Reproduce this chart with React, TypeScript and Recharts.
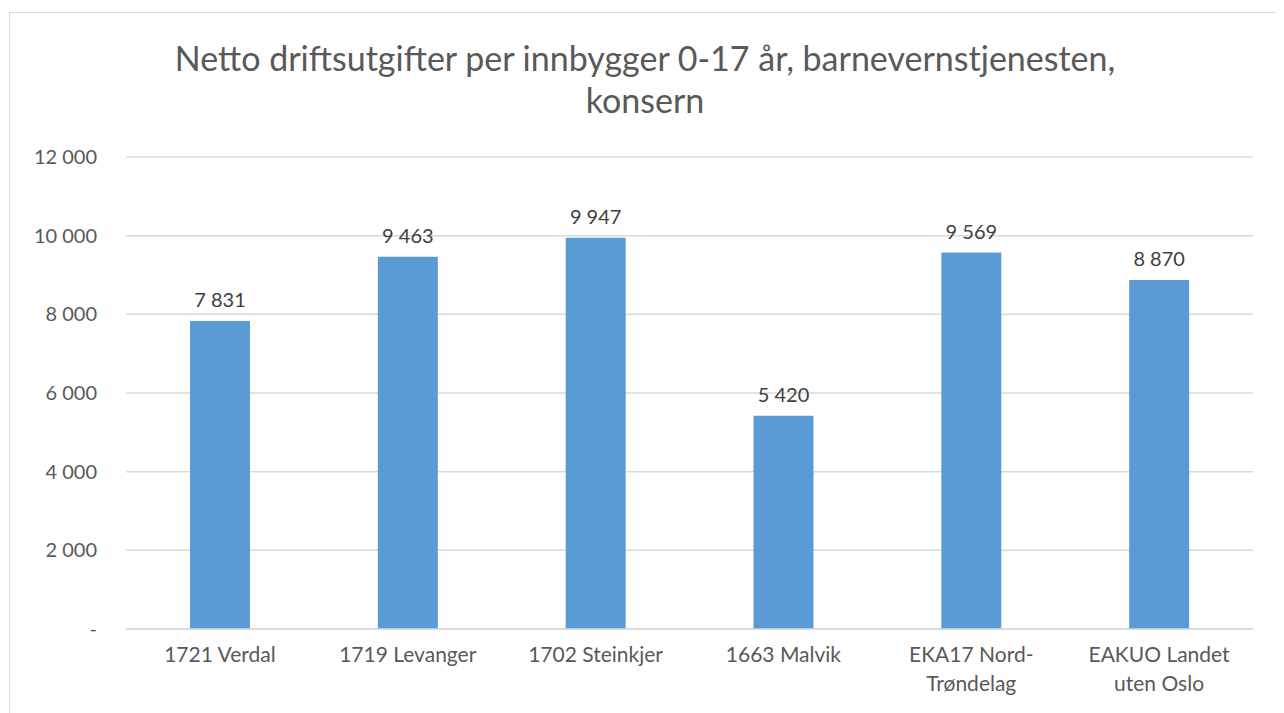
import React from "react";
import { BarChart, Bar, XAxis, YAxis, CartesianGrid, LabelList } from "recharts";

const categories = [
  "1721 Verdal",
  "1719 Levanger",
  "1702 Steinkjer",
  "1663 Malvik",
  "EKA17 Nord-\nTrøndelag",
  "EAKUO Landet\nuten Oslo",
];
const values = [7831, 9463, 9947, 5420, 9569, 8870];
const yTicks = [0, 2000, 4000, 6000, 8000, 10000, 12000];
const titleLines = [
  "Netto driftsutgifter per innbygger 0-17 år, barnevernstjenesten,",
  "konsern",
];

const data = categories.map((name, i) => ({ name, value: values[i] }));

const FONT = "Lato, 'Open Sans', sans-serif";
const TEXT = "#595959";

const fmt = (v: number) =>
  v === 0 ? "-" : String(v).replace(/\B(?=(\d{3})+(?!\d))/g, " ");

const CategoryTick = (props: any) => {
  const { x, y, payload } = props;
  const lines = String(payload.value).split("\n");
  return (
    <text x={x} y={y} textAnchor="middle" fill={TEXT} fontSize={21} fontFamily={FONT}>
      {lines.map((l, i) => (
        <tspan key={i} x={x} dy={i === 0 ? 25 : 29}>
          {l}
        </tspan>
      ))}
    </text>
  );
};

export default function App() {
  return (
    <div
      style={{
        position: "relative",
        marginLeft: 1,
        marginTop: 4,
        width: 1270,
        height: 700,
        border: "1px solid #d9d9d9",
        background: "#fff",
        fontFamily: FONT,
      }}
    >
      <div
        style={{
          position: "absolute",
          top: 24,
          left: 0,
          width: "100%",
          textAlign: "center",
          color: TEXT,
          fontSize: 34,
          lineHeight: "42px",
        }}
      >
        {titleLines.map((t, i) => (
          <div key={i}>{t}</div>
        ))}
      </div>
      <BarChart
        width={1270}
        height={700}
        data={data}
        margin={{ top: 144, right: 27, bottom: 54, left: 0 }}
      >
        <CartesianGrid vertical={false} stroke="#d9d9d9" strokeWidth={1.5} />
        <XAxis
          dataKey="name"
          axisLine={{ stroke: "#d9d9d9", strokeWidth: 1.5 }}
          tickLine={false}
          tick={<CategoryTick />}
          interval={0}
        />
        <YAxis
          width={116}
          domain={[0, 12000]}
          ticks={yTicks}
          tickFormatter={fmt}
          axisLine={false}
          tickLine={false}
          tickSize={0}
          tickMargin={29}
          tick={{ fill: TEXT, fontSize: 20, fontFamily: FONT }}
        />
        <Bar dataKey="value" fill="#5b9bd5" barSize={60} isAnimationActive={false}>
          <LabelList
            dataKey="value"
            position="top"
            offset={14}
            formatter={(v: any) => fmt(Number(v))}
            style={{ fill: "#404040", fontSize: 20, fontFamily: FONT }}
          />
        </Bar>
      </BarChart>
    </div>
  );
}
